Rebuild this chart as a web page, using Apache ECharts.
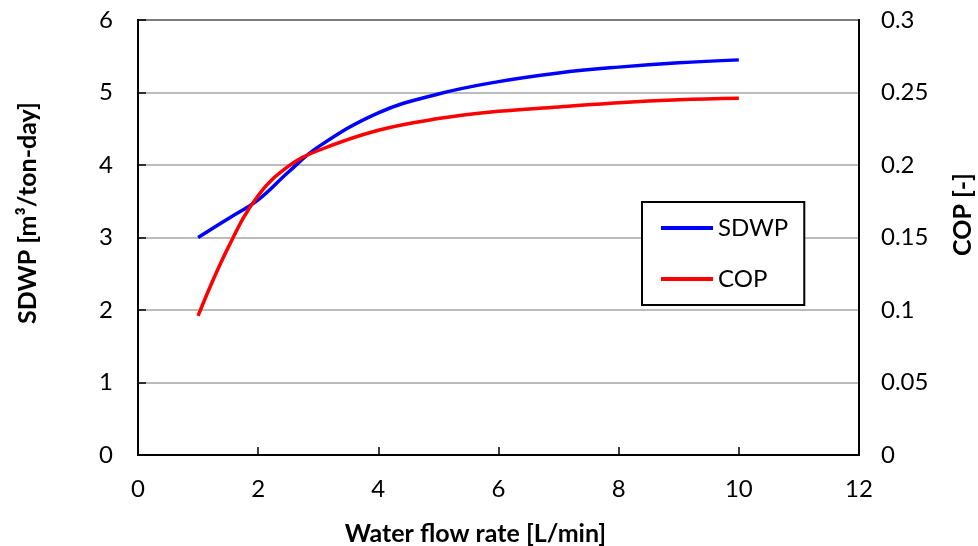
<!DOCTYPE html>
<html>
<head>
<meta charset="utf-8">
<script src="https://cdn.jsdelivr.net/npm/echarts@6/dist/echarts.min.js"></script>
<style>
html,body{margin:0;padding:0;background:#fff;overflow:hidden;}
#chart{width:978px;height:546px;}
</style>
</head>
<body>
<div id="chart"></div>
<script>
// Water flow rate [L/min]
const flowRate = [1, 1.5, 2, 2.5, 3, 4, 5, 6, 7, 8, 9, 10];
// SDWP [m3/ton-day] (left axis)
const sdwp = [3.0, 3.26, 3.52, 3.9, 4.25, 4.72, 4.98, 5.15, 5.27, 5.35, 5.41, 5.45];
// COP [-] (right axis)
const cop = [0.096, 0.143, 0.179, 0.199, 0.210, 0.224, 0.232, 0.237, 0.240, 0.243, 0.245, 0.246];
const seriesNames = ['SDWP', 'COP'];
const xTitle = 'Water flow rate [L/min]';
const yLeftTitle = 'SDWP [m³/ton-day]';
const yRightTitle = 'COP [-]';

const FONT = 'Lato';
const chart = echarts.init(document.getElementById('chart'));
const pair = (xs, ys) => xs.map((x, i) => [x, ys[i]]);

chart.setOption({
  animation: false,
  textStyle: { fontFamily: FONT },
  grid: {
    left: 138, right: 119, top: 20, bottom: 91,
    outerBoundsMode: 'none', containLabel: false,
    show: true, borderColor: '#000', borderWidth: 2, backgroundColor: 'transparent'
  },
  legend: {
    data: seriesNames.map(n => ({ name: n, icon: 'rect' })),
    orient: 'vertical',
    left: 642, top: 202,
    padding: [14, 16, 14, 19],
    itemGap: 27,
    itemWidth: 52,
    itemHeight: 4,
    borderColor: '#000',
    borderWidth: 2,
    backgroundColor: '#fff',
    textStyle: { fontFamily: FONT, fontSize: 24, color: '#000', lineHeight: 24 }
  },
  xAxis: {
    type: 'value', min: 0, max: 12, interval: 2,
    name: xTitle, nameLocation: 'middle', nameGap: 66,
    nameTextStyle: { fontFamily: FONT, fontSize: 25, fontWeight: 'bold', color: '#000', padding: [0, 46, 0, 0] },
    axisLine: { show: true, lineStyle: { color: '#000', width: 2 } },
    axisTick: { show: true, inside: true, length: 8, lineStyle: { color: '#000', width: 1.5 } },
    axisLabel: { fontFamily: FONT, fontSize: 24, color: '#000', margin: 22 },
    splitLine: { show: false }
  },
  yAxis: [
    {
      type: 'value', min: 0, max: 6, interval: 1, position: 'left',
      name: yLeftTitle, nameLocation: 'middle', nameGap: 98, nameRotate: 90,
      nameTextStyle: { fontFamily: FONT, fontSize: 25, fontWeight: 'bold', color: '#000', padding: [0, 0, 0, 49] },
      axisLine: { show: true, lineStyle: { color: '#000', width: 2 } },
      axisTick: { show: true, inside: true, length: 8, lineStyle: { color: '#000', width: 1.5 } },
      axisLabel: { fontFamily: FONT, fontSize: 24, color: '#000', margin: 25 },
      splitLine: { show: true, lineStyle: { color: '#a6a6a6', width: 1.5 } }
    },
    {
      type: 'value', min: 0, max: 0.3, interval: 0.05, position: 'right',
      name: yRightTitle, nameLocation: 'middle', nameGap: 91, nameRotate: 90,
      nameTextStyle: { fontFamily: FONT, fontSize: 25, fontWeight: 'bold', color: '#000', padding: [0, 0, 0, 46] },
      axisLine: { show: true, lineStyle: { color: '#000', width: 2 } },
      axisTick: { show: false },
      axisLabel: { fontFamily: FONT, fontSize: 24, color: '#000', margin: 22 },
      splitLine: { show: false }
    }
  ],
  series: [
    {
      name: seriesNames[0], type: 'line', yAxisIndex: 0,
      data: pair(flowRate, sdwp), smooth: 0.4, symbol: 'none',
      lineStyle: { color: '#0000ff', width: 3.5 }, itemStyle: { color: '#0000ff' }
    },
    {
      name: seriesNames[1], type: 'line', yAxisIndex: 1,
      data: pair(flowRate, cop), smooth: 0.4, symbol: 'none',
      lineStyle: { color: '#ff0000', width: 3.5 }, itemStyle: { color: '#ff0000' }
    }
  ]
});
</script>
</body>
</html>
